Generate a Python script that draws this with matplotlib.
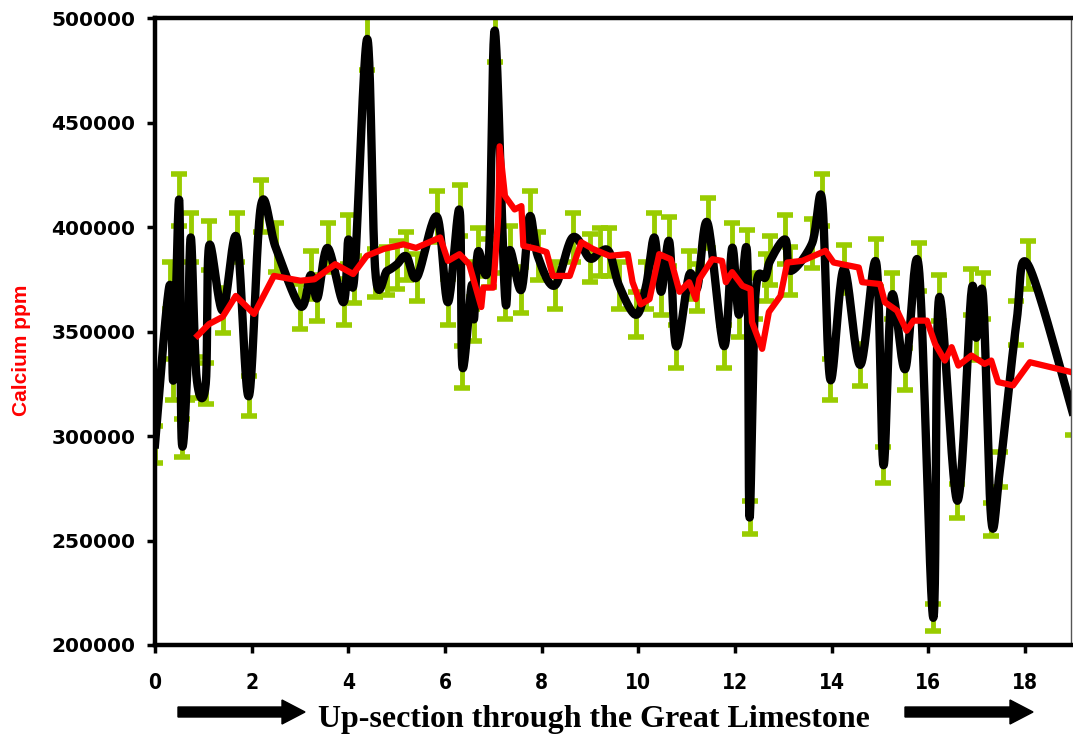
import numpy as np
import matplotlib
matplotlib.use('Agg')
import matplotlib.pyplot as plt
from matplotlib.patches import Polygon
from matplotlib.transforms import Affine2D

# Calcium samples up-section (depth position, ppm)
ca_x = [0.00, 0.30, 0.38, 0.50, 0.55, 0.66, 0.74, 0.86, 1.05, 1.12, 1.40, 1.69, 1.94, 2.19,
        2.50, 3.01, 3.22, 3.36, 3.57, 3.90, 4.00, 4.12, 4.39, 4.56, 4.80, 5.00, 5.20, 5.42,
        5.83, 6.06, 6.30, 6.36, 6.55, 6.60, 6.68, 6.90, 7.03, 7.24, 7.34, 7.58, 7.75, 7.92,
        8.27, 8.64, 8.99, 9.20, 9.40, 9.60, 9.95, 10.16, 10.33, 10.47, 10.64, 10.78, 11.05,
        11.22, 11.43, 11.77, 11.94, 12.08, 12.25, 12.30, 12.42, 12.63, 12.73, 13.04, 13.14,
        13.59, 13.80, 13.97, 14.25, 14.59, 14.92, 15.07, 15.24, 15.52, 15.80, 16.10, 16.22,
        16.60, 16.89, 16.99, 17.13, 17.30, 17.48, 17.82, 18.06, 19.00]
ca_ppm = [296000, 372000, 327000, 413000, 299000, 327000, 395000, 328000, 325000, 391000,
          360000, 395000, 319000, 410000, 390000, 362000, 377000, 366000, 390000, 364000,
          394000, 375000, 490000, 378000, 379000, 382000, 386000, 376000, 405000, 364000,
          408000, 333000, 372000, 356000, 388000, 383000, 494000, 367000, 389000, 370000,
          405000, 386000, 372000, 395000, 385000, 388000, 388000, 372000, 358000, 372000,
          395000, 369000, 393000, 343000, 377000, 371000, 402000, 343000, 390000, 358000,
          387000, 261000, 367000, 376000, 384000, 394000, 379000, 392000, 413000, 327000,
          380000, 334000, 383000, 286000, 367000, 332000, 381000, 213000, 366000, 269000,
          369000, 347000, 367000, 260000, 284000, 354000, 382000, 310000]
err_pct = 0.03

# Moving average (red line)
ma_x = [0.88, 1.12, 1.40, 1.67, 2.05, 2.46, 3.01, 3.30, 3.73, 4.10, 4.38, 4.73, 5.14, 5.40,
        5.90, 6.06, 6.30, 6.50, 6.75, 6.79, 7.00, 7.10, 7.13, 7.24, 7.44, 7.58, 7.62, 7.90,
        8.10, 8.23, 8.58, 8.82, 9.06, 9.40, 9.78, 9.88, 10.05, 10.23, 10.43, 10.67, 10.85,
        11.05, 11.19, 11.26, 11.53, 11.73, 11.81, 11.94, 12.15, 12.32, 12.35, 12.56, 12.70,
        12.94, 13.08, 13.39, 13.87, 14.04, 14.56, 14.63, 15.00, 15.10, 15.35, 15.55, 15.69,
        15.97, 16.14, 16.34, 16.48, 16.62, 16.89, 17.16, 17.30, 17.44, 17.75, 18.10, 18.95]
ma_ppm = [348000, 353600, 357000, 367000, 358400, 376600, 374300, 375000, 382200, 377500,
          386200, 389500, 391700, 390000, 395000, 383800, 387000, 382200, 361700, 371000,
          371000, 405000, 438600, 414800, 408400, 410000, 391000, 389500, 388000, 376600,
          376600, 392700, 389500, 386200, 387000, 373600, 363000, 365500, 387000, 384600,
          369000, 373600, 365500, 375000, 384600, 383800, 373600, 378400, 371900, 370300,
          354500, 341700, 359300, 367000, 383000, 383800, 388600, 383000, 380600, 373600,
          372700, 364000, 360000, 350400, 355200, 355200, 344000, 336100, 342500, 333700,
          338500, 334500, 336100, 325800, 324200, 335300, 330600]

x_ticks = [0, 2, 4, 6, 8, 10, 12, 14, 16, 18]
y_ticks = [200000, 250000, 300000, 350000, 400000, 450000, 500000]


def smooth(xs, ys, n=24):
    # Excel-style smoothed line (Catmull-Rom as cubic Bezier)
    p = np.column_stack([xs, ys]).astype(float)
    p = np.vstack([p[0], p, p[-1]])
    t = np.linspace(0, 1, n)[:, None]
    out = []
    for i in range(1, len(p) - 2):
        b0, b3 = p[i], p[i + 1]
        b1 = b0 + (p[i + 1] - p[i - 1]) / 6
        b2 = b3 - (p[i + 2] - p[i]) / 6
        seg = (1 - t) ** 3 * b0 + 3 * (1 - t) ** 2 * t * b1 + 3 * (1 - t) * t ** 2 * b2 + t ** 3 * b3
        out.append(seg if i == 1 else seg[1:])
    out = np.vstack(out)
    return out[:, 0], out[:, 1]


fig = plt.figure(figsize=(10.73, 7.38), dpi=100)
ax = fig.add_axes([155 / 1073, 1 - 645 / 738, 916 / 1073, 627 / 738])

# Error bars
yerr = [v * err_pct for v in ca_ppm]
ax.errorbar(ca_x, ca_ppm, yerr=yerr, fmt='none', ecolor='#99CC00',
            elinewidth=3.5, capsize=6, capthick=4, zorder=1)

# Smoothed data line
sx, sy = smooth(ca_x, ca_ppm)
ax.plot(sx, sy, color='black', linewidth=6, solid_joinstyle='round', zorder=2)

# Moving average line
ax.plot(ma_x, ma_ppm, color='#FF0000', linewidth=4.5, solid_joinstyle='round', zorder=3)

ax.set_xlim(0, 18.95)
ax.set_ylim(200000, 500000)
ax.set_xticks(x_ticks)
ax.set_yticks(y_ticks)
ax.set_xticklabels([str(v) for v in x_ticks], fontsize=15, fontweight='bold',
                   family='DejaVu Sans', fontstretch='condensed')
ax.set_yticklabels([str(v) for v in y_ticks], fontsize=14.5, fontweight='bold',
                   family='DejaVu Sans')
ax.tick_params(axis='x', direction='out', length=6, width=2.5, pad=14)
ax.tick_params(axis='y', direction='out', length=6, width=2.5, pad=8)

for s in ['left', 'bottom', 'top']:
    ax.spines[s].set_linewidth(3.2)
ax.spines['right'].set_linewidth(1)
ax.spines['right'].set_color('#555555')

# Axis titles
fig.text(22 / 1073, 1 - 350 / 738, 'Calcium ppm', color='#FF0000', rotation=90,
         fontsize=15, fontweight='bold', family='Liberation Sans', ha='center', va='center')
fig.text(594 / 1073, 1 - 719 / 738, 'Up-section through the Great Limestone',
         fontsize=23, fontweight='bold', family='Liberation Serif', ha='center', va='center')

# Direction arrows
px = Affine2D().scale(1 / 100) + fig.dpi_scale_trans
for x0, x1 in [(178, 305), (905, 1033)]:
    yc = 738 - 712
    hl, sw, hw = 23, 5, 12
    verts = [(x0, yc - sw), (x1 - hl, yc - sw), (x1 - hl, yc - hw), (x1, yc),
             (x1 - hl, yc + hw), (x1 - hl, yc + sw), (x0, yc + sw)]
    fig.patches.append(Polygon(verts, closed=True, color='black', transform=px))

plt.savefig('out.png', dpi=100)
